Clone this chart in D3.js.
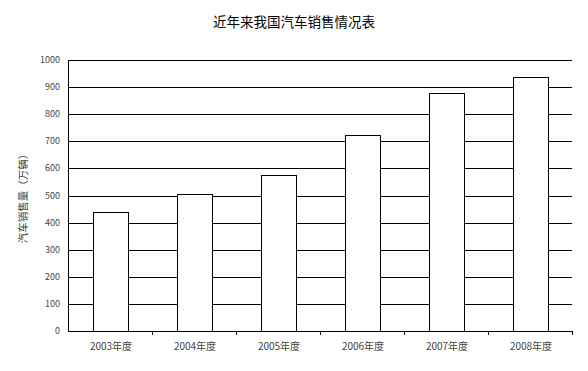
<!DOCTYPE html>
<html>
<head>
<meta charset="utf-8">
<script src="https://cdn.jsdelivr.net/npm/d3@7"></script>
<style>
body { margin: 0; background: #fff; }
text { font-family: "Noto Sans CJK SC", "DejaVu Sans", sans-serif; }
</style>
</head>
<body>
<svg id="chart" width="588" height="371"></svg>
<script>
var years = ['2003年度', '2004年度', '2005年度', '2006年度', '2007年度', '2008年度'];
var sales = [439, 507, 576, 722, 879, 938];
var yTicks = [0, 100, 200, 300, 400, 500, 600, 700, 800, 900, 1000];

var svg = d3.select('#chart');
var plotLeft = 68, plotRight = 572, plotTop = 60, plotBottom = 331;

var x = d3.scaleBand()
	.domain(years)
	.range([plotLeft, plotRight])
	.paddingInner(0.583)
	.paddingOuter(0.2915);
var xCat = d3.scaleBand().domain(years).range([plotLeft, plotRight]);
var y = d3.scaleLinear().domain([0, 1000]).range([plotBottom, plotTop]);

// gridlines
svg.selectAll('.grid')
	.data(yTicks.slice(1))
	.enter()
	.append('line')
	.attr('x1', plotLeft)
	.attr('x2', plotRight)
	.attr('y1', function(d){ return Math.round(y(d)) + 0.5; })
	.attr('y2', function(d){ return Math.round(y(d)) + 0.5; })
	.attr('stroke', '#000')
	.attr('stroke-width', 1);

// bars
svg.selectAll('.bar')
	.data(sales)
	.enter()
	.append('rect')
	.attr('x', function(d, i){ return Math.round(x(years[i])) + 1.5; })
	.attr('y', function(d){ return Math.round(y(d)) + 0.5; })
	.attr('width', Math.round(x.bandwidth()))
	.attr('height', function(d){ return Math.round(y(0)) - Math.round(y(d)); })
	.attr('fill', '#fff')
	.attr('stroke', '#000')
	.attr('stroke-width', 1);

// y axis line
svg.append('line')
	.attr('x1', plotLeft + 0.5).attr('x2', plotLeft + 0.5)
	.attr('y1', plotTop).attr('y2', plotBottom + 1)
	.attr('stroke', '#000');

// x axis line + tick marks at category boundaries
svg.append('line')
	.attr('x1', plotLeft).attr('x2', plotRight + 1)
	.attr('y1', plotBottom + 0.5).attr('y2', plotBottom + 0.5)
	.attr('stroke', '#000');
svg.selectAll('.xtick')
	.data(years)
	.enter()
	.append('line')
	.attr('x1', function(d){ return Math.round(xCat(d) + xCat.bandwidth()) + 0.5; })
	.attr('x2', function(d){ return Math.round(xCat(d) + xCat.bandwidth()) + 0.5; })
	.attr('y1', plotBottom)
	.attr('y2', plotBottom + 4)
	.attr('stroke', '#000');

// y tick labels
svg.selectAll('.ylab')
	.data(yTicks)
	.enter()
	.append('text')
	.attr('x', plotLeft - 8)
	.attr('y', function(d){ return y(d) + 3; })
	.attr('text-anchor', 'end')
	.attr('font-size', '9px')
	.attr('fill', '#444')
	.text(function(d){ return d; });

// x labels
svg.selectAll('.xlab')
	.data(years)
	.enter()
	.append('text')
	.attr('x', function(d){ return xCat(d) + xCat.bandwidth() / 2 + 1; })
	.attr('y', 350)
	.attr('text-anchor', 'middle')
	.attr('font-size', '10px')
	.attr('fill', '#444')
	.text(function(d){ return d; });

// title
svg.append('text')
	.attr('x', 294)
	.attr('y', 27)
	.attr('text-anchor', 'middle')
	.attr('font-size', '13.5px')
	.attr('fill', '#000')
	.text('近年来我国汽车销售情况表');

// y axis title
svg.append('text')
	.attr('transform', 'translate(27,196) rotate(-90)')
	.attr('text-anchor', 'middle')
	.attr('font-size', '10.5px')
	.attr('fill', '#444')
	.text('汽车销售量（万辆）');
</script>
</body>
</html>
